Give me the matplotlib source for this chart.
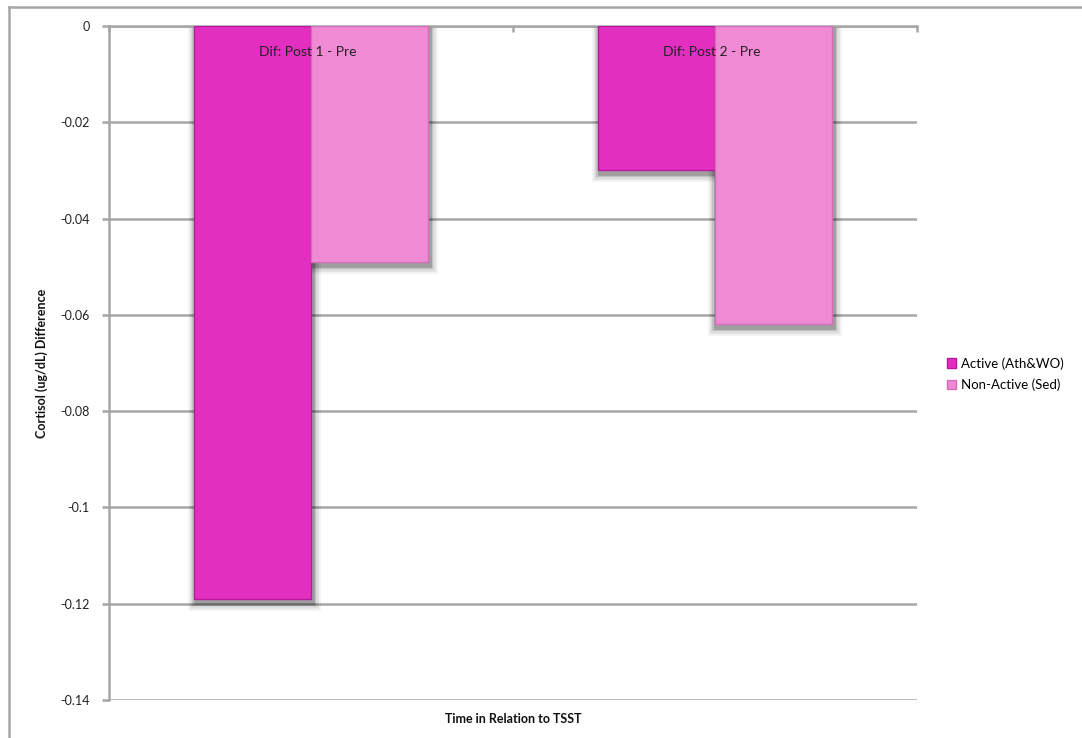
import matplotlib
matplotlib.use("Agg")
import matplotlib.pyplot as plt
import matplotlib.patheffects as pe
from matplotlib.lines import Line2D
from matplotlib.patches import Patch
import numpy as np

plt.rcParams['font.family'] = ['Lato', 'DejaVu Sans']

categories = ["Dif: Post 1 - Pre", "Dif: Post 2 - Pre"]
series_names = ["Active (Ath&WO)", "Non-Active (Sed)"]
active = [-0.119, -0.030]
non_active = [-0.049, -0.062]
y_ticks = [0, -0.02, -0.04, -0.06, -0.08, -0.1, -0.12, -0.14]
y_tick_labels = ["0", "-0.02", "-0.04", "-0.06", "-0.08", "-0.1", "-0.12", "-0.14"]

colors = ["#E22FC0", "#F08AD4"]
edge_colors = ["#B8179A", "#D46DB8"]
grid_color = "#A6A6A6"

fig = plt.figure(figsize=(10.82, 7.38), dpi=100)
ax = fig.add_axes([0.1007, 0.0515, 0.7468, 0.9133])

x = np.arange(len(categories))
width = 0.289

# soft gray halo behind the bars
halo = [pe.Stroke(offset=(1, -2), linewidth=lw, foreground="#000000", alpha=a)
        for lw, a in [(12, 0.05), (9, 0.08), (6, 0.13), (3.5, 0.18)]]

series = [active, non_active]
for i, vals in enumerate(series):
    pos = x + (i - 0.5) * width
    sh = ax.bar(pos, vals, width=width, facecolor="none", linewidth=0, zorder=2)
    for b in sh:
        b.set_path_effects(halo)

for i, (vals, name) in enumerate(zip(series, series_names)):
    pos = x + (i - 0.5) * width
    ax.bar(pos, vals, width=width, color=colors[i], edgecolor=edge_colors[i],
           linewidth=1.0, label=name, zorder=3)

ax.set_xlim(-0.5, len(categories) - 0.5)
ax.set_ylim(-0.14, 0)
ax.set_yticks(y_ticks)
ax.set_yticklabels(y_tick_labels, fontsize=9, color="#222222")
ax.yaxis.grid(True, color=grid_color, linewidth=1.8, zorder=0)
ax.set_axisbelow(True)

for s in ["right", "bottom"]:
    ax.spines[s].set_visible(False)
ax.spines["left"].set_color(grid_color)
ax.spines["left"].set_linewidth(1.8)
ax.spines["top"].set_color(grid_color)
ax.spines["top"].set_linewidth(1.8)
ax.tick_params(axis="y", length=5, width=1.8, color=grid_color, pad=9)

# category boundary ticks on the zero line
ax.xaxis.set_ticks_position("top")
ax.set_xticks(np.arange(len(categories) + 1) - 0.5)
ax.set_xticklabels([])
ax.tick_params(axis="x", direction="in", length=4, width=1.8, color=grid_color)

for xi, cat in zip(x, categories):
    ax.annotate(cat, xy=(xi, 0), xytext=(-2.5, -19), textcoords="offset points",
                ha="center", va="center", fontsize=10, color="#222222", zorder=5)

ax.set_ylabel("Cortisol (ug/dL) Difference", fontsize=9, fontweight="bold",
              color="#111111", labelpad=9)
ax.text(0.5, -0.028, "Time in Relation to TSST", transform=ax.transAxes,
        ha="center", va="center", fontsize=9, fontweight="bold", color="#111111")

handles = [Patch(facecolor=colors[0], edgecolor=edge_colors[0]),
           Patch(facecolor=colors[1], edgecolor=edge_colors[1])]
fig.legend(handles, series_names, loc="center left", bbox_to_anchor=(0.864, 0.493),
           frameon=False, fontsize=9.5, handlelength=0.7, handleheight=0.7,
           handletextpad=0.4, labelspacing=0.7)

# outer chart frame
fig.add_artist(Line2D([9 / 1082, 9 / 1082], [0, 1 - 7 / 738], transform=fig.transFigure,
                      color=grid_color, linewidth=1.8))
fig.add_artist(Line2D([9 / 1082, 1], [1 - 7 / 738, 1 - 7 / 738], transform=fig.transFigure,
                      color=grid_color, linewidth=1.8))

fig.savefig("out.png", dpi=100, facecolor="white")
